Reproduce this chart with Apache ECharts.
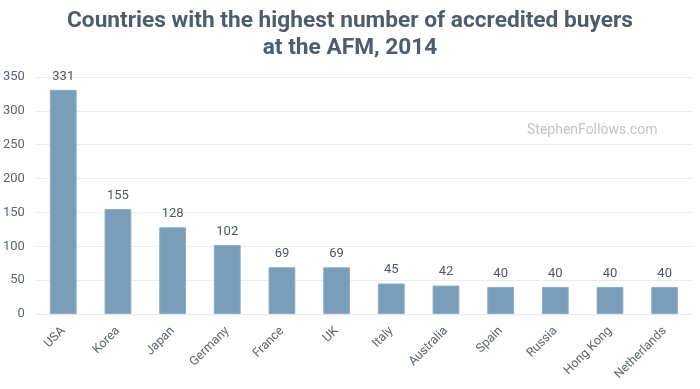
<!DOCTYPE html>
<html><head><meta charset="utf-8">
<script src="https://cdn.jsdelivr.net/npm/echarts@6/dist/echarts.min.js"></script>
<style>html,body{margin:0;padding:0;background:#fff}#c{width:700px;height:389px}</style>
</head><body><div id="c"></div>
<script>
const categories = ["USA","Korea","Japan","Germany","France","UK","Italy","Australia","Spain","Russia","Hong Kong","Netherlands"];
const buyers = [331,155,128,102,69,69,45,42,40,40,40,40];
const yTicks = [0,50,100,150,200,250,300,350];

const chart = echarts.init(document.getElementById('c'), null, {renderer:'canvas'});
chart.setOption({
  animation:false,
  title:{
    text:'Countries with the highest number of accredited buyers\nat the AFM, 2014',
    left:'center', top:3,
    textStyle:{fontFamily:'Roboto', fontWeight:'bold', fontSize:22.7, color:'#4e5d6c', lineHeight:27}
  },
  graphic:[{type:'text', left:527, top:123, style:{text:'StephenFollows.com', fontFamily:'Roboto', fontSize:14, fill:'#c4c4c4'}}],
  grid:{left:32, right:8, top:77, bottom:75, containLabel:false},
  xAxis:{
    type:'category', data:categories,
    axisLine:{lineStyle:{color:'#e3e6ec'}},
    axisTick:{show:false},
    axisLabel:{rotate:45, color:'#5b6672', fontFamily:'Roboto', fontSize:12.5, margin:15, interval:0}
  },
  yAxis:{
    type:'value', min:yTicks[0], max:yTicks[yTicks.length-1], interval:50,
    axisLine:{show:false}, axisTick:{show:false},
    splitLine:{lineStyle:{color:'#ebedf0'}},
    axisLabel:{color:'#5b6672', fontFamily:'Roboto', fontSize:13, margin:11, align:'right'}
  },
  series:[{
    type:'bar', data:buyers, barWidth:'49%',
    itemStyle:{color:'#7b9db8', borderColor:'#8eaec6', borderWidth:1},
    label:{show:true, position:'top', distance:7, color:'#4e5863', fontFamily:'Roboto', fontSize:13}
  }]
});
</script></body></html>
